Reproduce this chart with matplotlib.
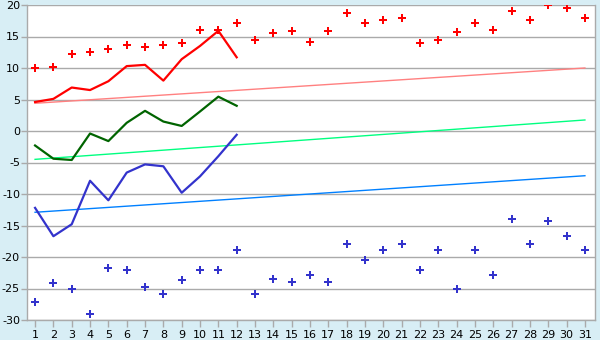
import numpy as np
from matplotlib import pyplot as plt

plt.rcParams['axes.unicode_minus'] = False

# donnees
jours = np.arange(1, 32)
jours_ligne = np.arange(1, 13)
jours_tendance = [1, 31]

pts_rouge = [10.0, 10.2, 12.2, 12.5, 13.0, 13.6, 13.4, 13.6, 13.9, 16.0,
             16.0, 17.1, 14.4, 15.5, 15.8, 14.1, 15.8, 18.8, 17.1, 17.6,
             18.0, 13.9, 14.5, 15.7, 17.2, 16.0, 19.0, 17.6, 20.0, 19.6, 17.9]
pts_bleu = [-27.2, -24.2, -25.0, -29.1, -21.8, -22.0, -24.8, -25.9, -23.7, -22.0,
            -22.0, -18.9, -25.9, -23.5, -24.0, -22.9, -24.0, -18.0, -20.5, -18.9,
            -18.0, -22.1, -18.9, -25.0, -18.9, -22.9, -13.9, -18.0, -14.3, -16.7, -18.9]

ligne_rouge = [4.6, 5.1, 6.9, 6.5, 7.9, 10.3, 10.5, 8.0, 11.4, 13.5, 15.9, 11.7]
ligne_verte = [-2.3, -4.4, -4.6, -0.4, -1.6, 1.3, 3.2, 1.5, 0.8, 3.1, 5.45, 4.0]
ligne_bleue = [-12.2, -16.7, -14.8, -7.9, -11.0, -6.6, -5.3, -5.6, -9.8, -7.2, -4.0, -0.6]

tendance_rouge = [4.4, 10.0]
tendance_verte = [-4.5, 1.75]
tendance_bleue = [-12.9, -7.1]

fond = '#d8eef5'
gris = '#aaaaaa'

fig = plt.figure(figsize=(6, 3.4), dpi=100, facecolor=fond)
ax = fig.add_axes([27/600, 1-320/340, (595-27)/600, 315/340])
ax.set_facecolor('white')

for y in range(-30, 25, 5):
    ax.axhline(y, color=gris, lw=1.0, zorder=1)

ax.plot(jours_tendance, tendance_rouge, color='#ff8080', lw=1.0, zorder=2)
ax.plot(jours_tendance, tendance_verte, color='#00ff80', lw=1.0, zorder=2)
ax.plot(jours_tendance, tendance_bleue, color='#0080ff', lw=1.0, zorder=2)

ax.plot(jours_ligne, ligne_rouge, color='#ff0000', lw=1.6, zorder=3)
ax.plot(jours_ligne, ligne_verte, color='#006400', lw=1.6, zorder=3)
ax.plot(jours_ligne, ligne_bleue, color='#3333cc', lw=1.6, zorder=3)

ax.plot(jours, pts_rouge, 'P', color='#ff0000', ms=5.2, mew=0, zorder=4)
ax.plot(jours, pts_bleu, 'P', color='#3333cc', ms=5.2, mew=0, zorder=4)

ax.set_xlim(0.56, 31.55)
ax.set_ylim(-30, 20)
ax.set_xticks(jours)
ax.set_yticks(range(-30, 25, 5))
ax.tick_params(axis='both', colors=gris, labelcolor='black', labelsize=8,
               width=1.0)
ax.tick_params(axis='x', length=5, pad=2)
ax.tick_params(axis='y', length=4, pad=1)
for s in ['left', 'bottom', 'right']:
    ax.spines[s].set_color(gris)
    ax.spines[s].set_linewidth(1.0)
ax.spines['top'].set_visible(False)

plt.savefig('out.png', dpi=100, facecolor=fond)
